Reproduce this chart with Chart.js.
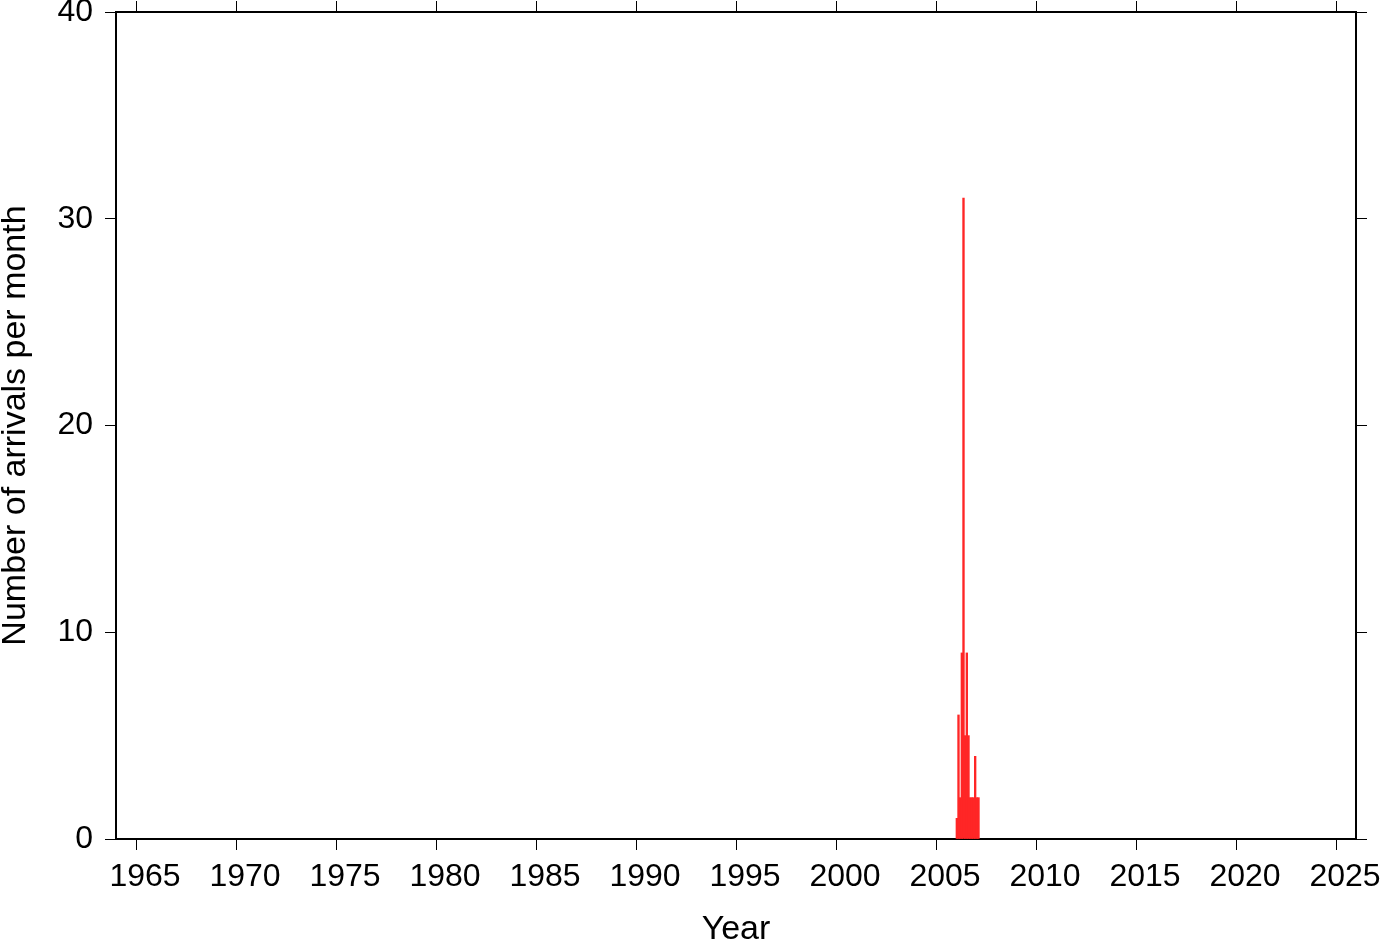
<!DOCTYPE html>
<html>
<head>
<meta charset="utf-8">
<script src="https://cdn.jsdelivr.net/npm/chart.js@4"></script>
<style>
  html, body { margin: 0; padding: 0; background: #fff; }
  #wrap { width: 1382px; height: 942px; }
</style>
</head>
<body>
<div id="wrap"><canvas id="arrivals" width="1382" height="942"></canvas></div>
<script>
// monthly arrival counts, starting Jan 2006
const startYear = 2006;
const monthCounts = [1, 6, 2, 9, 31, 5, 9, 5, 2, 2, 2, 4, 2, 2];
const yearTicks = [1965, 1970, 1975, 1980, 1985, 1990, 1995, 2000, 2005, 2010, 2015, 2020, 2025];
const countTicks = [0, 10, 20, 30, 40];

const points = monthCounts.map(function (c, i) {
    return { x: startYear + (i + 0.5) / 12, y: c };
});

const family = 'Arial, "Liberation Sans", Helvetica, sans-serif';
const tickFont = { family: family, size: 32 };
const titleFont = { family: family, size: 34 };
const black = '#000';

function fixTicks(list) {
    return function (axis) {
        axis.ticks = list.map(v => ({ value: v }));
    };
}

// keep the frame where the reference has it, no extra room for edge labels
function noPad(s) {
    s.paddingTop = 0; s.paddingBottom = 0; s.paddingLeft = 0; s.paddingRight = 0;
}

const ctx = document.getElementById('arrivals').getContext('2d');
new Chart(ctx, {
    type: 'bar',
    data: {
        datasets: [{
            data: points,
            backgroundColor: '#ff2626',
            borderWidth: 0,
            barThickness: 1.7,
            xAxisID: 'x',
            yAxisID: 'y'
        }]
    },
    options: {
        responsive: false,
        animation: false,
        layout: { padding: 0 },
        plugins: { legend: { display: false }, tooltip: { enabled: false } },
        scales: {
            x: {
                type: 'linear', position: 'bottom', min: 1964, max: 2026, offset: false,
                afterBuildTicks: fixTicks(yearTicks),
                afterFit: s => { s.height = 103; noPad(s); },
                ticks: { color: black, font: tickFont, padding: 8, labelOffset: 9, maxRotation: 0, autoSkip: false,
                         callback: v => String(v) },
                grid: { offset: false, drawOnChartArea: false, drawTicks: true, tickLength: 11, color: black, lineWidth: 1 },
                border: { display: true, color: black, width: 2 },
                title: { display: true, text: 'Year', color: black, font: titleFont, padding: { top: 0, bottom: -8 } }
            },
            x2: {
                type: 'linear', position: 'top', min: 1964, max: 2026, offset: false,
                afterBuildTicks: fixTicks(yearTicks),
                afterFit: s => { s.height = 12; noPad(s); },
                ticks: { display: false },
                grid: { offset: false, drawOnChartArea: false, drawTicks: true, tickLength: 11, color: black, lineWidth: 1 },
                border: { display: true, color: black, width: 2 }
            },
            y: {
                type: 'linear', position: 'left', min: 0, max: 40,
                afterBuildTicks: fixTicks(countTicks),
                afterFit: s => { s.width = 116; noPad(s); },
                ticks: { color: black, font: tickFont, padding: 12 },
                grid: { drawOnChartArea: false, drawTicks: true, tickLength: 11, color: black, lineWidth: 1 },
                border: { display: true, color: black, width: 2 },
                title: { display: true, text: 'Number of arrivals per month', color: black, font: titleFont,
                         padding: { top: -5, bottom: 0 } }
            },
            y2: {
                type: 'linear', position: 'right', min: 0, max: 40,
                afterBuildTicks: fixTicks(countTicks),
                afterFit: s => { s.width = 26; noPad(s); },
                ticks: { display: false },
                grid: { drawOnChartArea: false, drawTicks: true, tickLength: 11, color: black, lineWidth: 1 },
                border: { display: true, color: black, width: 2 }
            }
        }
    }
});
</script>
</body>
</html>
